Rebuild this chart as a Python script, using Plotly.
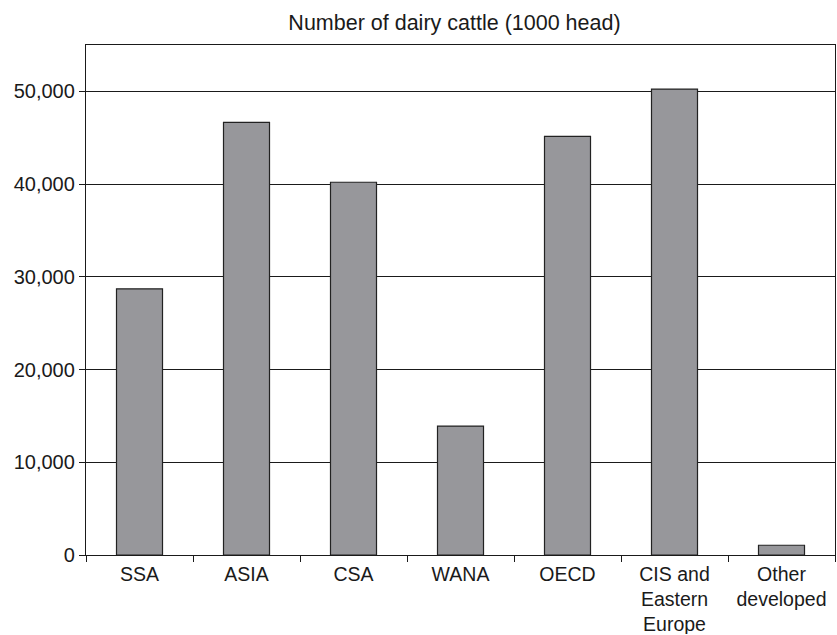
import plotly.graph_objects as go

categories = ["SSA", "ASIA", "CSA", "WANA", "OECD", "CIS and<br>Eastern<br>Europe", "Other<br>developed"]
cattle_1000_head = [28700, 46650, 40200, 13900, 45150, 50250, 1050]
y_ticks = [0, 10000, 20000, 30000, 40000, 50000]
y_tick_labels = ["0", "10,000", "20,000", "30,000", "40,000", "50,000"]

fig = go.Figure(go.Bar(
    x=categories, y=cattle_1000_head,
    marker=dict(color="#97979b", line=dict(color="#222222", width=1.2)),
    width=0.43,
))

fig.update_layout(
    width=837, height=634,
    margin=dict(l=86, r=2, t=45, b=79),
    paper_bgcolor="white", plot_bgcolor="white",
    font=dict(family="Liberation Sans, Arial, sans-serif", size=20, color="#1a1a1a"),
    title=dict(text="Number of dairy cattle (1000 head)", x=0.543, xanchor="center",
               y=0.965, yanchor="middle", font=dict(size=21.5, family="Liberation Sans, Arial, sans-serif")),
    showlegend=False,
    bargap=0.57,
)
fig.update_xaxes(
    showline=True, linecolor="#1a1a1a", linewidth=1.3, mirror=True,
    ticks="outside", tickson="boundaries", ticklen=6, tickcolor="#1a1a1a",
    showgrid=False, ticklabelstandoff=1, automargin=False,
    tickfont=dict(size=19.5),
)
fig.update_yaxes(
    range=[0, 55000], tickvals=y_ticks, ticktext=y_tick_labels,
    showline=True, linecolor="#1a1a1a", linewidth=1.3, mirror=True,
    ticks="outside", ticklen=6, tickcolor="#1a1a1a",
    showgrid=True, gridcolor="#1a1a1a", gridwidth=1, zeroline=False,
    automargin=False, tickfont=dict(size=20),
)

fig.write_html(
    "out.html",
    config={"displayModeBar": False},
    post_script="document.body.style.margin='0';document.body.style.overflow='hidden';",
)
